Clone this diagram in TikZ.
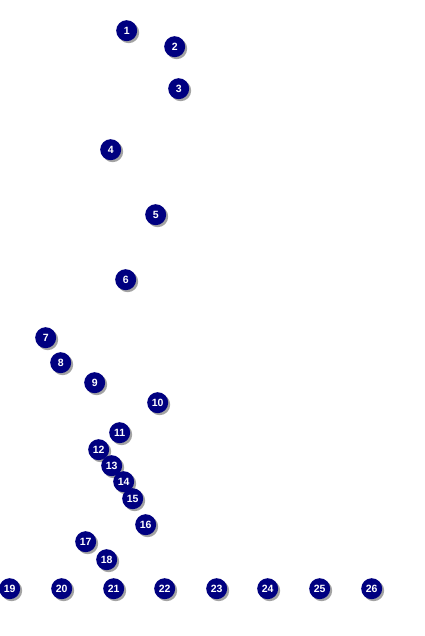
\documentclass[tikz,border=0pt]{standalone}
\usepackage{fontspec}
\setmainfont{Liberation Sans}
\usetikzlibrary{shadows}
\definecolor{navy}{HTML}{000080}
\tikzset{
  ball/.style={circle, fill=navy, minimum size=21pt, inner sep=0pt,
    text=white, font=\bfseries\fontsize{10.5}{11}\selectfont,
    drop shadow={shadow xshift=2pt, shadow yshift=-2pt, fill=black!45, opacity=0.8}}
}
\begin{document}
\begin{tikzpicture}[x=1pt,y=-1pt]
\useasboundingbox (0,0) rectangle (424,636);
\begin{scope}[shift={(0.7,0.7)}]
\node[ball] (n1) at (126,30) {1};
\node[ball] (n2) at (174,46) {2};
\node[ball] (n3) at (178,88) {3};
\node[ball] (n4) at (110,149) {4};
\node[ball] (n5) at (155,214) {5};
\node[ball] (n6) at (125,279) {6};
\node[ball] (n7) at (45,337) {7};
\node[ball] (n8) at (60,362) {8};
\node[ball] (n9) at (94,382) {9};
\node[ball] (n10) at (157,402) {10};
\node[ball] (n11) at (119,432) {11};
\node[ball] (n12) at (98,449) {12};
\node[ball] (n13) at (111,465) {13};
\node[ball] (n14) at (123,481) {14};
\node[ball] (n15) at (132,498) {15};
\node[ball] (n16) at (145,524) {16};
\node[ball] (n17) at (85,541) {17};
\node[ball] (n18) at (106,559) {18};
\node[ball] (n19) at (9,588) {19};
\node[ball] (n20) at (61,588) {20};
\node[ball] (n21) at (113,588) {21};
\node[ball] (n22) at (164,588) {22};
\node[ball] (n23) at (216,588) {23};
\node[ball] (n24) at (267,588) {24};
\node[ball] (n25) at (319,588) {25};
\node[ball] (n26) at (371,588) {26};
\end{scope}
\end{tikzpicture}
\end{document}
